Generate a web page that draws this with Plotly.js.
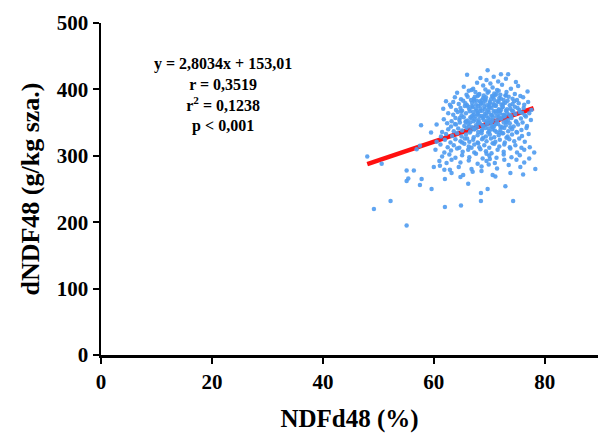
<!DOCTYPE html>
<html>
<head>
<meta charset="utf-8">
<script src="https://cdn.plot.ly/plotly-3.0.1.min.js"></script>
<style>html,body{margin:0;padding:0;background:#fff;}#chart{width:598px;height:433px;}</style>
</head>
<body>
<div id="chart"></div>
<script>
// NDFd48 (%) values of the samples
const ndfd48 = [
69.7,73.4,72.1,66.0,70.8,
69.5,71.6,73.0,67.8,74.8,70.2,68.4,
65.4,67.1,68.9,70.6,72.3,73.9,75.2,71.4,69.3,66.3,
64.2,65.9,67.5,68.2,69.9,70.9,72.0,73.1,74.6,76.9,75.6,71.7,66.8,
62.2,63.8,64.9,66.1,67.2,67.9,68.7,69.4,70.3,71.0,71.8,72.6,73.5,74.2,75.0,76.1,69.0,70.7,66.7,73.0,
62.9,63.5,64.5,65.3,66.0,66.9,67.6,68.3,68.9,69.6,70.1,70.8,71.5,72.2,72.9,73.7,74.5,75.3,76.3,77.0,67.3,69.3,71.2,73.3,65.7,
61.7,63.1,64.0,64.8,65.6,66.4,67.0,67.7,68.4,69.1,69.8,70.4,71.1,71.7,72.4,73.0,73.8,74.6,75.4,76.2,77.6,68.0,70.0,72.1,66.2,74.1,65.1,
62.6,63.5,64.3,65.0,65.8,66.5,67.2,67.9,68.6,69.2,69.9,70.5,71.2,71.9,72.5,73.2,73.9,74.7,75.5,76.4,77.2,68.3,70.8,72.8,66.9,64.9,69.5,74.3,
61.8,63.2,63.9,64.6,65.4,66.1,66.8,67.5,68.1,68.8,69.5,70.1,70.7,71.4,72.0,72.7,73.4,74.0,74.8,75.7,76.6,77.5,67.2,69.0,71.7,73.1,65.7,70.4,
60.5,62.4,63.1,64.0,64.7,65.5,66.2,66.9,67.6,68.3,68.9,69.6,70.2,70.9,71.6,72.3,73.0,73.7,74.4,75.2,76.0,76.8,68.0,70.6,72.6,66.6,74.9,57.7,
61.5,62.6,63.6,64.4,65.1,65.9,66.6,67.3,68.0,68.7,69.3,70.0,70.6,71.3,72.0,72.7,73.4,74.1,74.9,75.8,76.7,69.8,71.9,67.8,73.8,
59.5,61.3,62.2,63.3,64.2,65.0,65.8,66.5,67.2,67.9,68.6,69.4,70.1,70.9,71.7,72.5,73.3,74.1,75.0,75.9,77.1,68.9,66.0,
60.5,62.0,63.0,63.9,64.8,65.6,66.4,67.1,67.9,68.7,69.5,70.3,71.1,71.9,72.8,73.6,74.5,75.4,76.4,73.1,70.6,
57.5,61.2,62.5,63.6,64.6,65.5,66.3,67.3,68.2,69.1,70.0,70.9,71.8,72.7,73.7,74.7,75.8,77.3,68.0,65.1,
56.9,60.3,61.9,63.1,64.2,65.2,66.2,67.3,68.4,69.4,70.4,71.5,72.6,73.8,75.0,76.3,78.1,66.8,
61.5,62.8,63.9,65.1,66.4,67.6,68.8,70.0,71.3,72.6,74.0,75.5,77.2,69.5,48.0,
50.6,61.0,62.3,63.2,64.8,66.3,67.9,69.5,71.0,72.7,74.9,76.3,70.1,
61.1,62.9,61.9,55.1,56.4,64.5,66.8,68.6,71.4,73.5,78.3,75.6,69.9,60.0,
55.4,55.1,57.8,62.0,63.2,64.8,65.3,70.6,71.1,67.0,73.8,68.6,76.1,
57.5,59.6,69.7,68.5,66.2,72.9,
62.0,64.9,68.5,74.3,52.2,49.2,55.1,
67.4,68.1,68.9,69.7,70.5,71.3,72.1,72.9,
67.7,68.5,69.3,70.1,70.9,71.7,72.5,
66.9,67.6,68.4,69.2,70.0,70.8,71.6,72.4,73.2,
67.1,67.9,68.7,69.5,70.3,71.1,71.9,72.7,
66.6,67.4,68.2,69.0,69.8,70.6,71.4,72.2,73.0,
68.0,68.8,69.6,70.4,71.2,72.0,
67.3,68.6,69.9,71.0,72.3,
66.4,65.8,74.2,75.1,73.6,64.7,63.8,75.9
];
// dNDF48 (g/kg sza.) values of the samples
const dndf48 = [
429,423,423,422,419,
414,412,416,410,411,409,417,
404,401,406,403,407,401,405,399,400,398,
395,392,396,393,397,394,392,396,393,397,390,398,399,
382,388,385,389,386,390,384,388,385,391,387,384,389,386,384,388,391,389,384,391,
377,381,378,383,376,380,377,382,379,376,381,378,382,377,380,376,382,379,377,381,383,383,376,383,379,
371,374,369,372,375,370,373,368,371,374,369,372,375,370,373,368,371,374,369,372,369,375,375,369,374,368,368,
364,362,366,361,364,367,362,365,360,363,366,361,364,367,362,365,360,363,366,361,364,367,367,360,360,367,360,367,
355,352,357,354,358,353,356,359,354,357,352,355,358,353,356,359,354,357,352,356,359,354,352,359,359,351,351,351,
347,349,344,347,350,345,348,343,346,349,344,347,350,345,348,343,346,349,344,347,350,345,351,343,350,350,351,346,
336,340,337,341,338,342,337,340,336,339,342,337,340,336,339,342,337,340,336,339,342,335,335,343,343,
335,329,333,330,334,329,332,335,328,331,334,329,332,328,331,334,329,332,335,330,333,327,326,
321,324,320,325,322,326,321,324,320,325,322,326,321,324,320,325,322,326,321,327,319,
315,317,313,316,312,318,314,317,313,316,312,318,314,317,313,316,312,313,319,320,
310,309,305,308,311,306,309,305,310,307,304,309,306,311,305,309,305,312,
299,302,297,301,298,303,296,300,297,302,298,301,296,303,299,
288,292,289,294,290,293,288,292,289,294,294,290,295,
285,279,279,278,278,283,280,284,281,286,280,283,287,283,
266,262,265,265,274,268,271,271,269,276,274,277,272,
256,250,250,244,258,254,
223,225,232,232,232,220,195,
389,392,387,395,390,393,386,391,
383,380,385,379,384,381,378,
375,371,377,370,373,376,368,374,370,
366,363,368,365,362,367,364,361,
358,355,360,354,357,353,359,356,352,
349,346,350,345,348,344,
340,337,341,338,334,
344,352,378,372,362,357,348,365
];
// regression line: y = 2,8034x + 153,01, drawn over the observed x span
const lineX = [48, 78];
const slope = 2.8034, intercept = 153.01;
const lineY = lineX.map(v => slope * v + intercept);

const statsLines = ["y = 2,8034x + 153,01", "r = 0,3519", "r<sup>2</sup> = 0,1238", "p < 0,001"];
const xTitle = "NDFd48 (%)";
const yTitle = "dNDF48 (g/kg sza.)";
const xTicks = [0, 20, 40, 60, 80];
const yTicks = [0, 100, 200, 300, 400, 500];

const serif = "Liberation Serif, Times New Roman, serif";

const traces = [
  {
    type: "scatter", mode: "lines", x: lineX, y: lineY,
    line: {color: "#ff1010", width: 4.5},
    hoverinfo: "skip", showlegend: false
  },
  {
    type: "scatter", mode: "markers", x: ndfd48, y: dndf48,
    marker: {color: "#4f9bef", size: 4.5, opacity: 0.9, line: {width: 0}},
    hoverinfo: "skip", showlegend: false, cliponaxis: false
  }
];

const axisCommon = {
  showline: true, linecolor: "#000", linewidth: 2.5,
  ticks: "outside", ticklen: 6, tickwidth: 2, tickcolor: "#000",
  showgrid: false, zeroline: false,
  tickfont: {family: serif, size: 21, color: "#000", weight: "bold"}
};

const layout = {
  width: 598, height: 433,
  margin: {l: 101, r: 0, t: 23, b: 78},
  paper_bgcolor: "#fff", plot_bgcolor: "#fff",
  xaxis: Object.assign({}, axisCommon, {
    range: [0, 89.6], tickvals: xTicks, ticktext: xTicks.map(String),
    title: {text: xTitle, font: {family: serif, size: 25, color: "#000", weight: "bold"}, standoff: 18}
  }),
  yaxis: Object.assign({}, axisCommon, {
    range: [0, 500], tickvals: yTicks, ticktext: yTicks.map(String),
    title: {text: yTitle, font: {family: serif, size: 26, color: "#000", weight: "bold"}, standoff: 10}
  }),
  annotations: [{
    xref: "paper", yref: "paper", x: (223 - 101) / 497, y: (355 - 95) / 332,
    xanchor: "center", yanchor: "middle", showarrow: false, align: "center",
    text: statsLines.join("<br>"),
    font: {family: serif, size: 16, color: "#000", weight: "bold"}
  }]
};

Plotly.newPlot("chart", traces, layout, {displayModeBar: false, staticPlot: true});
</script>
</body>
</html>
